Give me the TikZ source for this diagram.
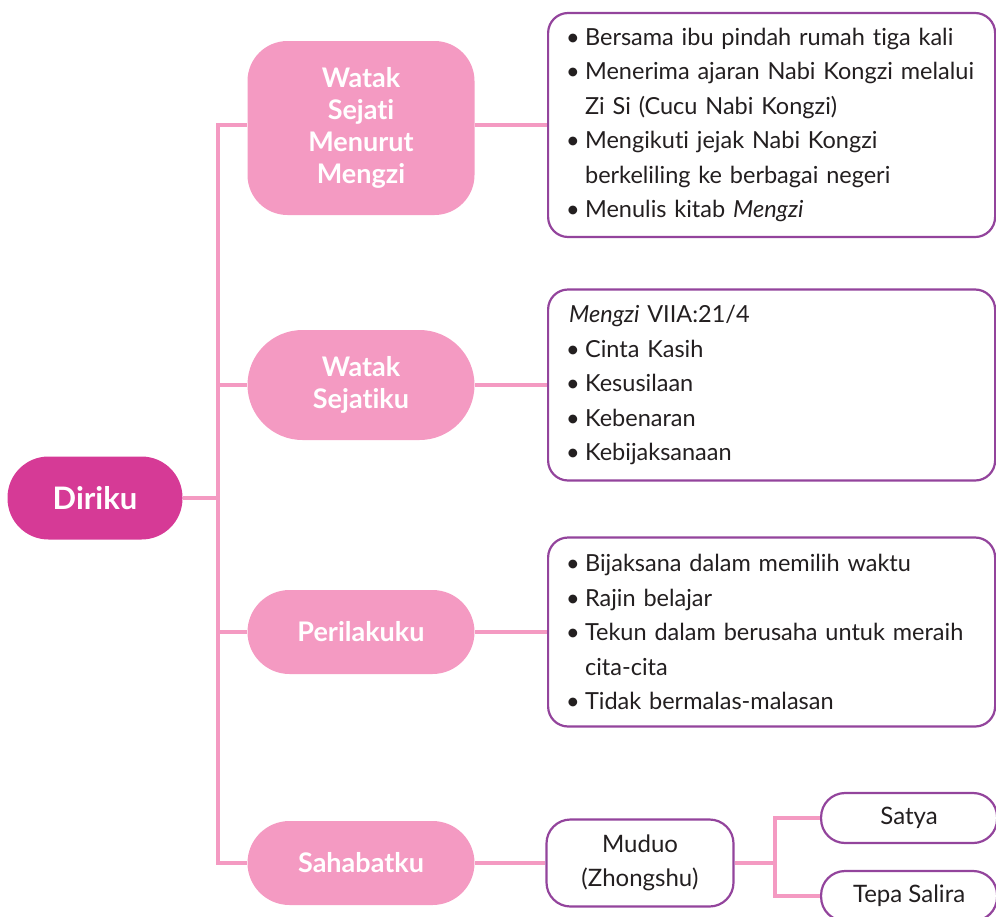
\documentclass[tikz,border=0pt]{standalone}
\usepackage{fontspec}
\setmainfont{Lato}[Ligatures=NoCommon]
\usepackage{tikz}
\definecolor{rootpink}{HTML}{D63A96}
\definecolor{softpink}{HTML}{F49AC2}
\definecolor{boxpurple}{HTML}{93449C}
\definecolor{inkgray}{HTML}{231F20}
\newcommand{\blt}{\makebox[21pt][l]{\hspace*{2pt}\textbullet}}
\newcommand{\ind}{\hspace*{21pt}}

\begin{document}
\begin{tikzpicture}[x=1pt,y=-1pt,
  link/.style={draw=softpink, line width=4.5pt},
  rootnode/.style={fill=rootpink, text=white, font=\fontsize{31}{34}\selectfont\bfseries,
    minimum width=175pt, minimum height=83pt, rounded corners=41pt},
  topic/.style={fill=softpink, text=white, font=\fontsize{27}{32}\selectfont\bfseries,
    align=center, minimum width=227pt, rounded corners=40pt},
  listbox/.style={draw=boxpurple, line width=2.2pt, fill=white, text=inkgray,
    rounded corners=20pt, anchor=west, text width=415pt, inner xsep=16pt, inner ysep=0pt,
    align=left, font=\fontsize{23.5}{34.5}\selectfont},
  leaf/.style={draw=boxpurple, line width=2.2pt, fill=white, text=inkgray, align=center,
    rounded corners=24pt, font=\fontsize{24}{34}\selectfont}]
\useasboundingbox (0,0) rectangle (996,916);

\node[rootnode] (root) at (95,498) {Diriku};
\coordinate (jn) at (218,498);

\node[topic, minimum height=174pt] (watak) at (361,128) {Watak\\Sejati\\Menurut\\Mengzi};
\node[topic, minimum height=110pt, rounded corners=55pt] (sejati) at (361,385) {Watak\\Sejatiku};
\node[topic, minimum height=84pt, rounded corners=42pt] (laku) at (361,632) {Perilakuku};
\node[topic, minimum height=84pt, rounded corners=42pt] (sahabat) at (361,863) {Sahabatku};

\node[listbox, minimum height=224pt] (riwayat) at (547,125) {%
\blt Bersama ibu pindah rumah tiga kali\\
\blt Menerima ajaran Nabi Kongzi melalui\\
\ind Zi Si (Cucu Nabi Kongzi)\\
\blt Mengikuti jejak Nabi Kongzi\\
\ind berkeliling ke berbagai negeri\\
\blt Menulis kitab \textit{Mengzi}};

\node[listbox, minimum height=191pt] (sifat) at (547,385) {%
\hspace*{5pt}\textit{Mengzi} VIIA:21/4\\
\blt Cinta Kasih\\
\blt Kesusilaan\\
\blt Kebenaran\\
\blt Kebijaksanaan};

\node[listbox, minimum height=189pt] (sikap) at (547,632) {%
\blt Bijaksana dalam memilih waktu\\
\blt Rajin belajar\\
\blt Tekun dalam berusaha untuk meraih\\
\ind cita-cita\\
\blt Tidak bermalas-malasan};

\node[leaf, minimum width=187pt, minimum height=87pt] (muduo) at (640,863) {Muduo\\(Zhongshu)};
\coordinate (fork) at (775,863);
\node[leaf, minimum width=176pt, minimum height=50pt, anchor=west] (satya) at (820,818) {Satya};
\node[leaf, minimum width=176pt, minimum height=50pt, anchor=west] (tepa) at (820,896) {Tepa Salira};

% batang utama
\draw[link] (root.east) -- (jn);
\draw[link] (watak.west |- riwayat.west) -| (jn) |- (sahabat.west);
\draw[link] (sejati.west) -- (sejati.west -| jn);
\draw[link] (laku.west) -- (laku.west -| jn);

% cabang ke kotak
\draw[link] (watak.east |- riwayat.west) -- (riwayat.west);
\draw[link] (sejati.east) -- (sifat.west);
\draw[link] (laku.east) -- (sikap.west);
\draw[link] (sahabat.east) -- (muduo.west);
\draw[link] (muduo.east) -- (fork);
\draw[link] (satya.west) -| (fork) |- (tepa.west);
\end{tikzpicture}
\end{document}
